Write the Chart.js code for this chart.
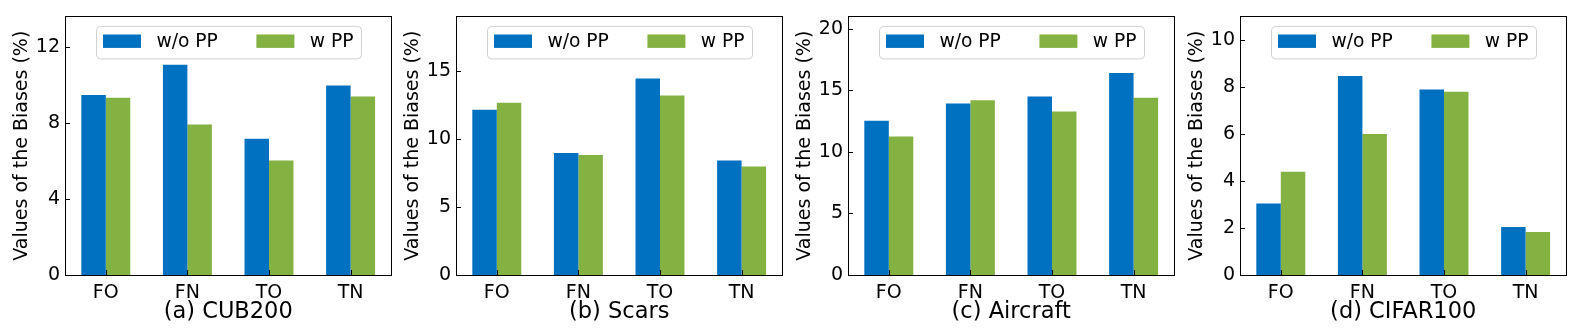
<!DOCTYPE html>
<html>
<head>
<meta charset="utf-8">
<script src="https://cdn.jsdelivr.net/npm/chart.js@4.4.1/dist/chart.umd.min.js"></script>
<style>
  html, body { margin: 0; padding: 0; background: #fff; }
  body { width: 1578px; height: 334px; position: relative; overflow: hidden; }
  canvas { position: absolute; top: 0; }
</style>
</head>
<body>
<canvas id="c0" width="400" height="334" style="left:0px"></canvas>
<canvas id="c1" width="400" height="334" style="left:391px"></canvas>
<canvas id="c2" width="400" height="334" style="left:783px"></canvas>
<canvas id="c3" width="400" height="334" style="left:1175px"></canvas>
<script>
const categories = ['FO', 'FN', 'TO', 'TN'];
const seriesNames = ['w/o PP', 'w PP'];
const panelTitles = ['(a) CUB200', '(b) Scars', '(c) Aircraft', '(d) CIFAR100'];

// values, per panel
const cubWithout = [9.47, 11.06, 7.16, 9.97];
const cubWith = [9.32, 7.91, 6.02, 9.39];
const scarsWithout = [12.15, 8.96, 14.44, 8.41];
const scarsWith = [12.66, 8.82, 13.18, 7.98];
const aircraftWithout = [12.52, 13.93, 14.49, 16.4];
const aircraftWith = [11.24, 14.2, 13.27, 14.39];
const cifarWithout = [3.04, 8.46, 7.89, 2.04];
const cifarWith = [4.39, 6.0, 7.8, 1.83];

const yMax = [13.6, 19, 21, 11];
const yStep = [4, 5, 5, 2];

const blue = '#0070C0';
const green = '#84B242';
const font = '"DejaVu Sans", sans-serif';

// box around the plot, inward tick marks, and the legend drawn inside the plot
const frameAndTicks = {
    id: 'frameAndTicks',
    afterDatasetsDraw(chart) {
        const ctx = chart.ctx;
        const a = chart.chartArea;
        const xs = chart.scales.x, ys = chart.scales.y;
        ctx.save();
        ctx.strokeStyle = '#000';
        ctx.lineWidth = 1;
        ys.ticks.forEach((t, i) => {
            const y = Math.round(ys.getPixelForTick(i)) + 0.5;
            ctx.beginPath(); ctx.moveTo(a.left, y); ctx.lineTo(a.left + 5, y); ctx.stroke();
        });
        xs.ticks.forEach((t, i) => {
            const x = Math.round(xs.getPixelForTick(i)) + 0.5;
            ctx.beginPath(); ctx.moveTo(x, a.bottom); ctx.lineTo(x, a.bottom - 5); ctx.stroke();
        });
        ctx.strokeRect(Math.round(a.left) + 0.5, Math.round(a.top) + 0.5,
            Math.round(a.right - a.left), Math.round(a.bottom - a.top));

        // legend
        const bx = a.left + 31, by = a.top + 9.5, bw = 265, bh = 32.5;
        ctx.beginPath();
        ctx.roundRect(bx + 0.5, by + 0.5, bw, bh, 4);
        ctx.fillStyle = 'rgba(255,255,255,0.8)';
        ctx.fill();
        ctx.strokeStyle = '#d0d0d0';
        ctx.stroke();
        chart.data.datasets.forEach((ds, i) => {
            const px = bx + 7 + i * 153.4;
            ctx.fillStyle = ds.backgroundColor;
            ctx.fillRect(px, by + 8.6, 38, 13.4);
            ctx.fillStyle = '#000';
            ctx.font = '18.7px ' + font;
            ctx.textBaseline = 'middle';
            ctx.textAlign = 'left';
            ctx.fillText(ds.label, px + 53.4, by + 16);
        });
        ctx.restore();
    }
};

function makePanel(id, idx, without, withPP) {
    const step = yStep[idx];
    new Chart(document.getElementById(id), {
        type: 'bar',
        data: {
            labels: categories,
            datasets: [
                { label: seriesNames[0], data: without, backgroundColor: blue },
                { label: seriesNames[1], data: withPP, backgroundColor: green }
            ]
        },
        options: {
            responsive: false,
            animation: false,
            devicePixelRatio: 1,
            layout: { padding: { top: 11, left: 0, right: 8.6, bottom: 0 } },
            datasets: { bar: { categoryPercentage: 0.6, barPercentage: 1.0 } },
            plugins: { legend: { display: false }, tooltip: { enabled: false } },
            scales: {
                x: {
                    grid: { display: false, drawTicks: false },
                    border: { display: false },
                    ticks: { color: '#000', font: { family: font, size: 19 }, padding: 7 },
                    title: {
                        display: true, text: panelTitles[idx], color: '#000',
                        font: { family: font, size: 22.5 }, padding: { top: 0, bottom: 8 }
                    },
                    afterFit(s) { s.height = 59; }
                },
                y: {
                    min: 0, max: yMax[idx],
                    grid: { display: false, drawTicks: false },
                    border: { display: false },
                    ticks: { stepSize: step, color: '#000', font: { family: font, size: 19 }, padding: 5 },
                    afterBuildTicks(s) {
                        const ticks = [];
                        for (let v = 0; v <= s.max + 1e-9; v += step) ticks.push({ value: v });
                        s.ticks = ticks;
                    },
                    title: {
                        display: true, text: 'Values of the Biases (%)', color: '#000',
                        font: { family: font, size: 19 }, padding: { top: 11, bottom: 0 }
                    },
                    afterFit(s) { s.width = 65; }
                }
            }
        },
        plugins: [frameAndTicks]
    });
}

makePanel('c0', 0, cubWithout, cubWith);
makePanel('c1', 1, scarsWithout, scarsWith);
makePanel('c2', 2, aircraftWithout, aircraftWith);
makePanel('c3', 3, cifarWithout, cifarWith);
</script>
</body>
</html>
